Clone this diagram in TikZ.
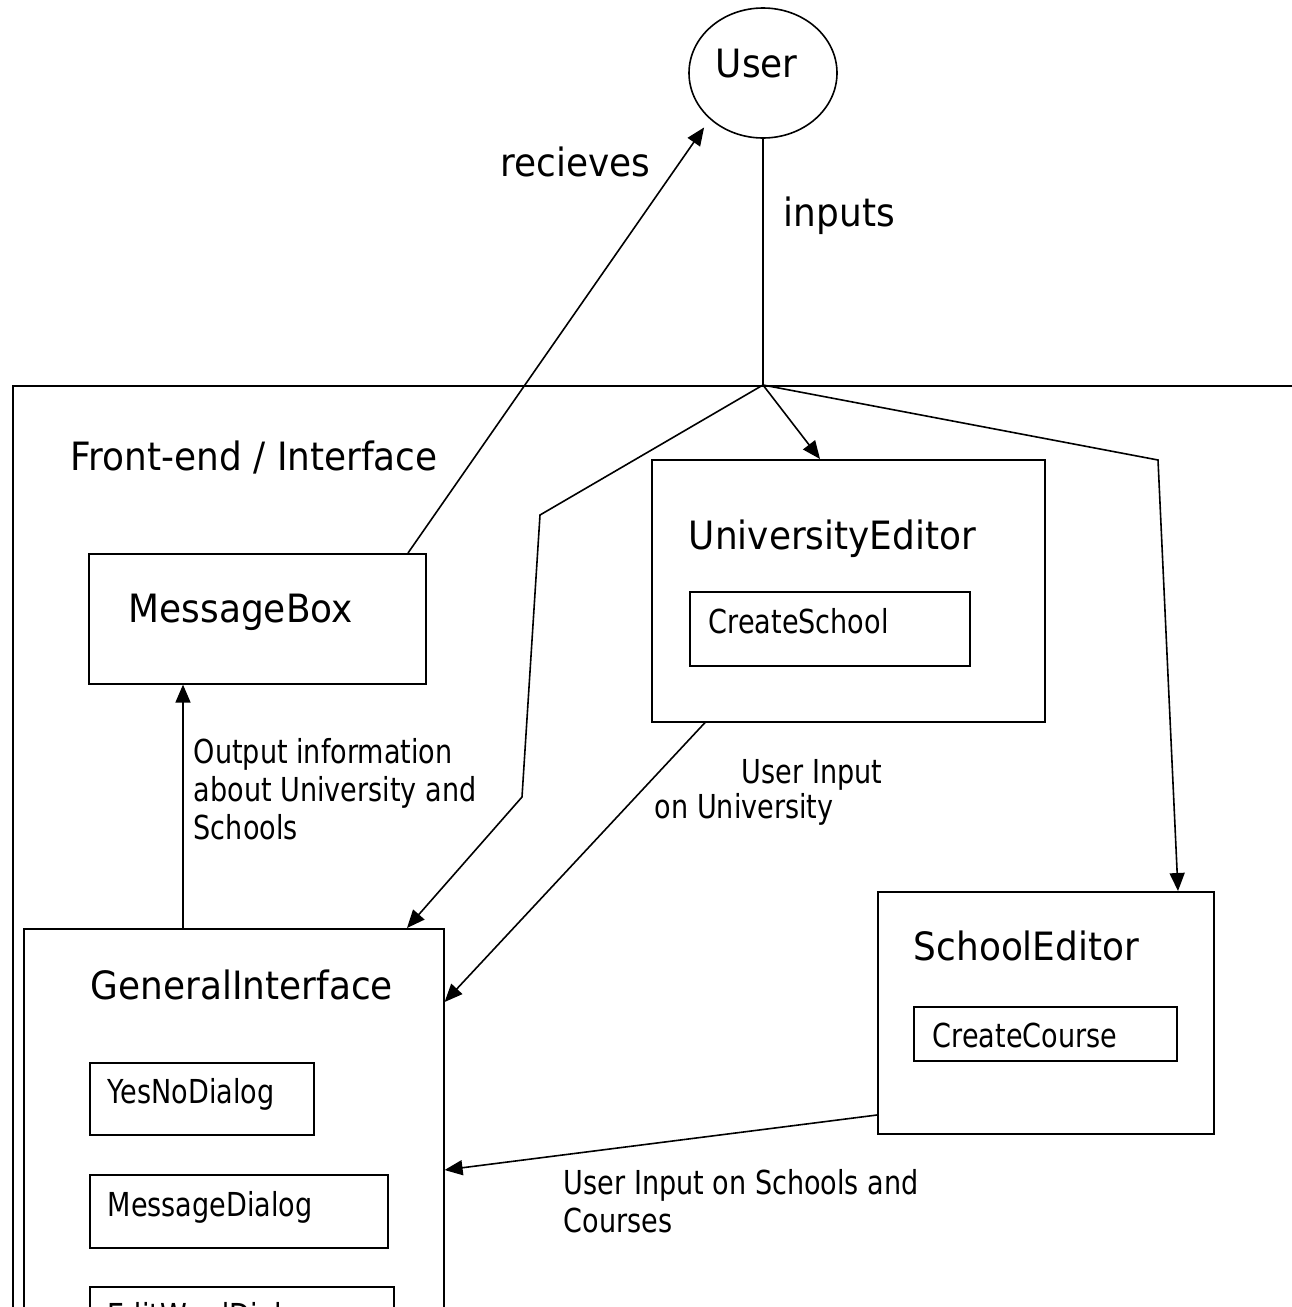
\documentclass[tikz,border=0pt]{standalone}
\usepackage{fontspec}
\setmainfont{DejaVu Sans}
\newfontfamily\bigfont{DejaVu Sans}[FakeStretch=0.92]
\newfontfamily\smallfont{DejaVu Sans}[FakeStretch=0.82]
\usetikzlibrary{arrows.meta,shapes.geometric}
\begin{document}
\begin{tikzpicture}[x=1pt,y=-1pt,line width=1.6pt,
  box/.style={draw,rectangle,inner sep=0pt,anchor=north west},
  big/.style={inner sep=0pt,anchor=base west,font=\bigfont\fontsize{39}{47}\selectfont},
  small/.style={inner sep=0pt,anchor=base west,align=left,font=\smallfont\fontsize{33}{38}\selectfont},
  arr/.style={-{Triangle[length=18pt,width=15pt]}}]
\useasboundingbox (0,0) rectangle (1292,1307);
\clip (0,0) rectangle (1292,1307);
\fill[white] (0,0) rectangle (1292,1307);
% frame
\node[box,minimum width=1300,minimum height=1000] (frame) at (12,385) {};
\node[big] (frontlbl) at (70,470) {Front-end / Interface};
% user
\node[draw,ellipse,minimum width=148,minimum height=130,inner sep=0pt] (user) at (763,73) {};
\node[big] (userlbl) at (715,77) {User};
\coordinate (J) at (user.south |- frame.north);
% boxes
\node[box,minimum width=337,minimum height=130] (mb) at (88,553) {};
\node[big] (mblbl) at (128,622) {MessageBox};
\node[box,minimum width=393,minimum height=262] (ue) at (651,459) {};
\node[big] (uelbl) at (688,549) {UniversityEditor};
\node[box,minimum width=280,minimum height=74] (cs) at (689,591) {};
\node[small] (cslbl) at (708,633) {CreateSchool};
\node[box,minimum width=420,minimum height=500] (gi) at (23,928) {};
\node[big] (gilbl) at (90,999) {GeneralInterface};
\node[box,minimum width=224,minimum height=72] (yn) at (89,1062) {};
\node[small] (ynlbl) at (107,1103) {YesNoDialog};
\node[box,minimum width=298,minimum height=73] (md) at (89,1174) {};
\node[small] (mdlbl) at (107,1216) {MessageDialog};
\node[box,minimum width=304,minimum height=73] (ew) at (89,1286) {};
\node[small] (ewlbl) at (107,1327) {EditWordDialog};
\node[box,minimum width=336,minimum height=242] (se) at (877,891) {};
\node[big] (selbl) at (913,960) {SchoolEditor};
\node[box,minimum width=263,minimum height=54] (cc) at (913,1006) {};
\node[small] (cclbl) at (932,1047) {CreateCourse};
% labels
\node[big] (rcvlbl) at (500,176) {recieves};
\node[big] (inplbl) at (783,226) {inputs};
\node[small] (outlbl) at (193,839) {Output information\\about University and\\Schools};
\node[small] (uilbl1) at (741,783) {User Input};
\node[small] (uilbl2) at (654,818) {on University};
\node[small] (sclbl) at (563,1232) {User Input on Schools and\\Courses};
% connectors
\draw (user.south) -- (J);
\draw[arr] (J) -- ([xshift=169pt]ue.north west);
\draw[arr] (J) -- (540,515) -- (522,797) -- ([xshift=384pt]gi.north west);
\draw[arr] (J) -- (1158,460) -- ([xshift=301pt]se.north west);
\draw[arr] ([xshift=54pt]ue.south west) -- ([yshift=-74pt]gi.north east);
\draw[arr] ([yshift=-224pt]se.north west) -- ([yshift=-242pt]gi.north east);
\draw[arr] ([xshift=160pt]gi.north west) -- ([xshift=95pt]mb.south west);
\draw[arr,shorten >=10pt] ([xshift=320pt]mb.north west) -- (user.221);
\end{tikzpicture}
\end{document}
